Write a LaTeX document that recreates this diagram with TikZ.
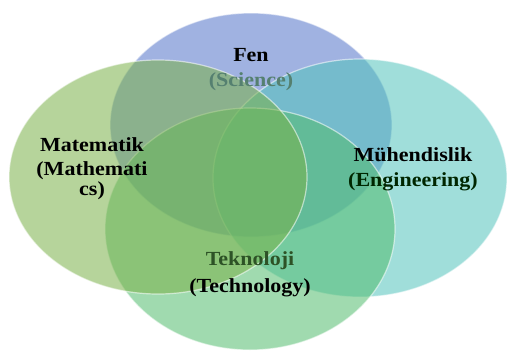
\documentclass[tikz,border=0pt]{standalone}
\usepackage{fontspec}
\setmainfont{Liberation Serif}[FakeStretch=1.1]
\usepackage{xcolor}
\usepackage{tikz}
\usetikzlibrary{positioning}

\definecolor{fenblue}{RGB}{82,115,200}
\definecolor{mathgreen}{RGB}{122,177,73}
\definecolor{engteal}{RGB}{82,195,188}
\definecolor{techgreen}{RGB}{82,188,110}
\definecolor{sciencetxt}{RGB}{85,128,112}
\definecolor{techtxt}{RGB}{45,82,38}

\begin{document}
\begin{tikzpicture}[x=1pt, y=-1pt,
    area/.style={fill=#1, fill opacity=0.55, draw=white, draw opacity=0.55, line width=1.2pt},
    label/.style={font=\fontsize{20}{22}\selectfont\bfseries, inner sep=0pt, anchor=base}]
    \useasboundingbox (0,0) rectangle (507,354);

    % Circles
    \filldraw[area=fenblue] (251,125) ellipse [x radius=141, y radius=112];
    \filldraw[area=engteal] (360,178) ellipse [x radius=147, y radius=119];
    \filldraw[area=techgreen] (250,229) ellipse [x radius=145, y radius=121];
    \filldraw[area=mathgreen] (158,177) ellipse [x radius=149, y radius=117];

    % Labels (placed on their baselines)
    \node[label] (fen) at (251,61) {Fen};
    \node[label, text=sciencetxt, below=25pt of fen.base, anchor=base] (science) {(Science)};

    \node[label] (mat) at (92,151) {Matematik};
    \node[label, below=24pt of mat.base, anchor=base] (math) {(Mathemati};
    \node[label, below=20pt of math.base, anchor=base] (cs) {cs)};

    \node[label] (muh) at (413,161) {Mühendislik};
    \node[label, text=black!85!green, below=25pt of muh.base, anchor=base] (eng) {(Engineering)};

    \node[label, text=techtxt] (tek) at (250,265) {Teknoloji};
    \node[label, below=27pt of tek.base, anchor=base] (tech) {(Technology)};
\end{tikzpicture}
\end{document}
